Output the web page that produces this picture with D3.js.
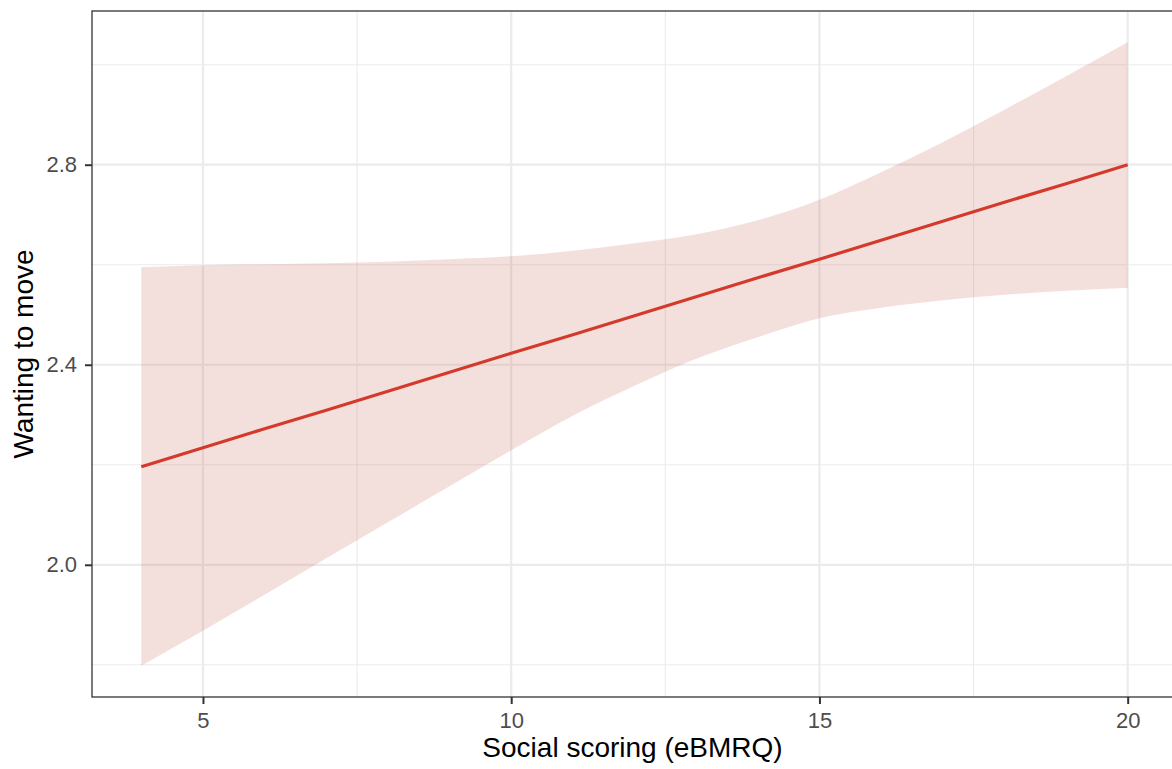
<!DOCTYPE html>
<html>
<head>
<meta charset="utf-8">
<script src="https://cdn.jsdelivr.net/npm/d3@7"></script>
<style>
  body { margin: 0; background: white; }
  svg { display: block; font-family: "Liberation Sans", Arial, sans-serif; }
</style>
</head>
<body>
<script>
// data (smooth fit with confidence band)
var xValues = [4, 5, 6, 7, 8, 9, 10, 11, 12, 13, 14, 15, 16, 17, 18, 19, 20];
var fitValues = [2.196, 2.234, 2.272, 2.309, 2.347, 2.385, 2.423, 2.460, 2.498,
                 2.536, 2.574, 2.611, 2.649, 2.687, 2.725, 2.762, 2.800];
var upperValues = [2.595, 2.599, 2.601, 2.603, 2.606, 2.611, 2.617, 2.628, 2.643,
                   2.661, 2.689, 2.730, 2.785, 2.845, 2.910, 2.977, 3.045];
var lowerValues = [1.798, 1.868, 1.940, 2.013, 2.085, 2.157, 2.229, 2.298, 2.358,
                   2.412, 2.455, 2.493, 2.514, 2.529, 2.540, 2.548, 2.554];

var xTicks = [5, 10, 15, 20];
var xMinor = [7.5, 12.5, 17.5];
var yTicks = [2.0, 2.4, 2.8];
var yMinor = [1.8, 2.2, 2.6, 3.0];

var xTitle = "Social scoring (eBMRQ)";
var yTitle = "Wanting to move";

// parameters plot
var width = 1172, height = 769;
var panel = { left: 92, top: 11, right: 1177, bottom: 697 };

var svg = d3.select("body")
            .append("svg")
            .attr("width", width)
            .attr("height", height);

// ggplot style 5% expansion
var xMin = d3.min(xValues), xMax = d3.max(xValues);
var xPad = (xMax - xMin) * 0.05;
var yMin = d3.min(lowerValues), yMax = d3.max(upperValues);
var yPad = (yMax - yMin) * 0.05;

var x = d3.scaleLinear()
          .domain([xMin - xPad, xMax + xPad])
          .range([panel.left, panel.right]);
var y = d3.scaleLinear()
          .domain([yMin - yPad, yMax + yPad])
          .range([panel.bottom, panel.top]);

var plot = svg.append("g");

// gridlines
plot.selectAll(".xminor").data(xMinor).enter().append("line")
    .attr("x1", d => x(d)).attr("x2", d => x(d))
    .attr("y1", panel.top).attr("y2", panel.bottom)
    .attr("stroke", "#ebebeb").attr("stroke-width", 1.1);
plot.selectAll(".yminor").data(yMinor).enter().append("line")
    .attr("y1", d => y(d)).attr("y2", d => y(d))
    .attr("x1", panel.left).attr("x2", panel.right)
    .attr("stroke", "#ebebeb").attr("stroke-width", 1.1);
plot.selectAll(".xmajor").data(xTicks).enter().append("line")
    .attr("x1", d => x(d)).attr("x2", d => x(d))
    .attr("y1", panel.top).attr("y2", panel.bottom)
    .attr("stroke", "#ebebeb").attr("stroke-width", 2.2);
plot.selectAll(".ymajor").data(yTicks).enter().append("line")
    .attr("y1", d => y(d)).attr("y2", d => y(d))
    .attr("x1", panel.left).attr("x2", panel.right)
    .attr("stroke", "#ebebeb").attr("stroke-width", 2.2);

// confidence band
var points = xValues.map(function(v, i) {
  return { x: v, fit: fitValues[i], lo: lowerValues[i], hi: upperValues[i] };
});

var band = d3.area()
             .x(d => x(d.x))
             .y0(d => y(d.lo))
             .y1(d => y(d.hi))
             .curve(d3.curveMonotoneX);

plot.append("path")
    .datum(points)
    .attr("d", band)
    .attr("fill", "#c36450")
    .attr("fill-opacity", 0.2);

// fitted line
var line = d3.line()
             .x(d => x(d.x))
             .y(d => y(d.fit));

plot.append("path")
    .datum(points)
    .attr("d", line)
    .attr("fill", "none")
    .attr("stroke", "#d33a2c")
    .attr("stroke-width", 3.2);

// panel border
svg.append("rect")
   .attr("x", panel.left)
   .attr("y", panel.top)
   .attr("width", panel.right - panel.left)
   .attr("height", panel.bottom - panel.top)
   .attr("fill", "none")
   .attr("stroke", "#333333")
   .attr("stroke-width", 1.3);

// axes
var xAxis = svg.append("g")
               .attr("transform", "translate(0," + panel.bottom + ")")
               .call(d3.axisBottom(x).tickValues(xTicks).tickFormat(d3.format("d"))
                       .tickSize(7).tickPadding(8));
var yAxis = svg.append("g")
               .attr("transform", "translate(" + panel.left + ",0)")
               .call(d3.axisLeft(y).tickValues(yTicks).tickFormat(d3.format(".1f"))
                       .tickSize(7).tickPadding(8));

[xAxis, yAxis].forEach(function(ax) {
  ax.attr("font-size", null).attr("font-family", null);
  ax.select(".domain").remove();
  ax.selectAll(".tick line").attr("stroke", "#333333").attr("stroke-width", 2);
  ax.selectAll(".tick text")
    .attr("fill", "#4d4d4d")
    .style("font-size", "22px")
    .style("font-family", "'Liberation Sans', Arial, sans-serif");
});

// axis titles
svg.append("text")
   .attr("x", (panel.left + panel.right) / 2 - 2)
   .attr("y", 757)
   .attr("text-anchor", "middle")
   .style("font-size", "28px")
   .attr("fill", "black")
   .text(xTitle);

svg.append("text")
   .attr("transform", "translate(33," + ((panel.top + panel.bottom) / 2) + ") rotate(-90)")
   .attr("text-anchor", "middle")
   .style("font-size", "28px")
   .attr("fill", "black")
   .text(yTitle);
</script>
</body>
</html>
